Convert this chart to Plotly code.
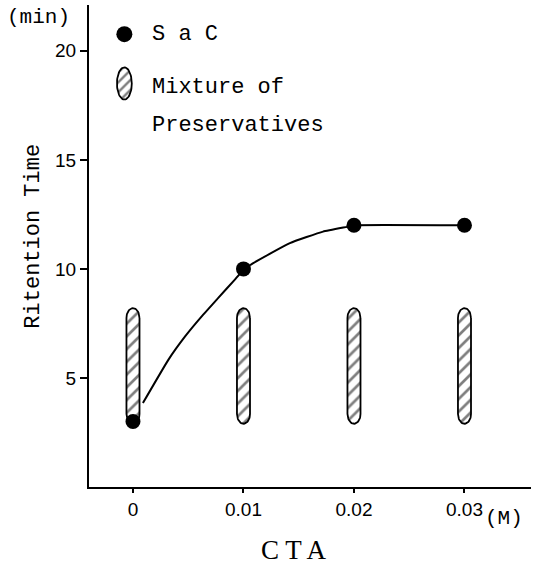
import numpy as np
import plotly.graph_objects as go

# ---- data ----
cta = [0.0, 0.01, 0.02, 0.03]               # CTA concentration (M)
sac_rt = [3.0, 10.0, 12.0, 12.0]             # SaC retention time (min)
mix_low = [2.9, 2.9, 2.9, 2.9]               # mixture of preservatives, lower end (min)
mix_high = [8.2, 8.2, 8.2, 8.2]              # mixture of preservatives, upper end (min)
curve_x = [0.0009, 0.0032, 0.0047, 0.0062, 0.0077, 0.0092, 0.01, 0.0106, 0.0142, 0.0172, 0.0196, 0.02, 0.03]
curve_y = [3.85, 5.83, 6.89, 7.81, 8.66, 9.5, 9.95, 10.18, 11.18, 11.71, 11.95, 12.0, 12.0]
x_ticks = [0.0, 0.01, 0.02, 0.03]
x_ticklabels = ["0", "0.01", "0.02", "0.03"]
y_ticks = [5, 10, 15, 20]
y_ticklabels = ["5", "10", "15", "20"]

# ---- styles ----
MONO = "Liberation Mono"
SANS = "Liberation Sans"
SERIF = "Liberation Serif"
HALF_W = 0.00059      # half width of the hatched bands (x units)
CAP_H = 0.45          # height of the rounded ends (y units)


def stadium(cx, y0, y1, hw, cap):
    t = np.linspace(0, np.pi, 30)
    top_x = cx + hw * np.cos(t)
    top_y = (y1 - cap) + cap * np.sin(t)
    bot_x = cx - hw * np.cos(t)
    bot_y = (y0 + cap) - cap * np.sin(t)
    xs = np.concatenate([top_x, bot_x, top_x[:1]])
    ys = np.concatenate([top_y, bot_y, top_y[:1]])
    return list(xs), list(ys)


ex, ey = [], []
for c, lo, hi in zip(cta, mix_low, mix_high):
    xs, ys = stadium(c, lo, hi, HALF_W, CAP_H)
    ex += xs + [None]
    ey += ys + [None]

pattern = dict(shape="/", size=9, solidity=0.3, fgcolor="black", bgcolor="white")

fig = go.Figure()
fig.add_trace(go.Scatter(
    x=ex, y=ey, mode="lines", fill="toself", fillcolor="white",
    fillpattern=pattern, line=dict(color="black", width=1.8),
    showlegend=False, hoverinfo="skip"))
fig.add_trace(go.Scatter(
    x=curve_x, y=curve_y, mode="lines",
    line=dict(color="black", width=2, shape="spline", smoothing=0.4),
    showlegend=False, hoverinfo="skip"))
fig.add_trace(go.Scatter(
    x=cta, y=sac_rt, mode="markers", marker=dict(color="black", size=15),
    showlegend=False))

# ---- legend drawn in a small inset axis ----
lx, ly = stadium(0.0, 0.119, 0.453, 0.42, 0.167)
fig.add_trace(go.Scatter(
    x=[0.0], y=[0.797], mode="markers", marker=dict(color="black", size=16),
    xaxis="x2", yaxis="y2", showlegend=False, hoverinfo="skip"))
fig.add_trace(go.Scatter(
    x=lx, y=ly, mode="lines", fill="toself", fillcolor="white",
    fillpattern=dict(shape="/", size=7, solidity=0.35, fgcolor="black", bgcolor="white"),
    line=dict(color="black", width=1.8),
    xaxis="x2", yaxis="y2", showlegend=False, hoverinfo="skip"))

fig.update_layout(
    width=541, height=565,
    margin=dict(l=89, r=10, t=5, b=78),
    paper_bgcolor="white", plot_bgcolor="white",
    showlegend=False,
    xaxis=dict(range=[-0.00398, 0.03602], tickvals=x_ticks, ticktext=x_ticklabels,
               showgrid=False, zeroline=False, showline=True, linecolor="black", linewidth=2,
               ticks="outside", ticklen=4, tickwidth=1.5, tickcolor="black",
               tickfont=dict(family=SANS, size=19, color="black")),
    yaxis=dict(range=[0, 22.1], tickvals=y_ticks, ticktext=y_ticklabels,
               showgrid=False, zeroline=False, showline=True, linecolor="black", linewidth=2,
               ticks="outside", ticklen=7, tickwidth=1.5, tickcolor="black",
               tickfont=dict(family=SANS, size=19, color="black")),
    xaxis2=dict(domain=[0.04, 0.12], anchor="y2", range=[-1, 1], visible=False, fixedrange=True),
    yaxis2=dict(domain=[0.78, 0.98], anchor="x2", range=[0, 1], visible=False, fixedrange=True),
)

anns = [
    dict(text="(min)", x=-0.115, y=0.975, font=dict(family=MONO, size=21)),
    dict(text="Ritention Time", x=-0.126, y=0.52, textangle=-90, font=dict(family=MONO, size=22)),
    dict(text="(M)", x=0.94, y=-0.065, font=dict(family=MONO, size=21)),
    dict(text="C T A", x=0.464, y=-0.13, font=dict(family=SERIF, size=27)),
    dict(text="S a C", x=0.137, y=0.939, xanchor="left", font=dict(family=MONO, size=22)),
    dict(text="Mixture of", x=0.137, y=0.829, xanchor="left", font=dict(family=MONO, size=22)),
    dict(text="Preservatives", x=0.137, y=0.749, xanchor="left", font=dict(family=MONO, size=22)),
]
for a in anns:
    a.setdefault("xanchor", "center")
    a["font"]["color"] = "black"
    fig.add_annotation(xref="paper", yref="paper", showarrow=False, yanchor="middle", **a)

fig.write_html("out.html", config={"displayModeBar": False},
               post_script="document.body.style.margin='0';document.body.style.overflow='hidden';")
